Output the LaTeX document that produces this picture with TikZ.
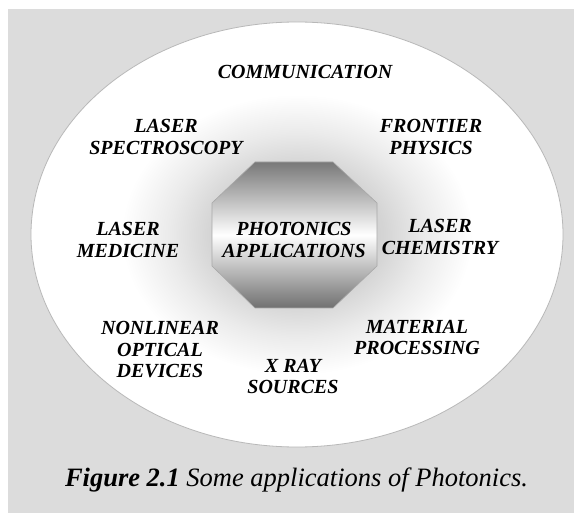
\documentclass[tikz,border=0pt]{standalone}
\usepackage{fontspec}
\setmainfont{Liberation Serif}
\usetikzlibrary{positioning}
\definecolor{bggray}{HTML}{DCDCDC}
\definecolor{edgegray}{HTML}{B8B8B8}
\definecolor{octtop}{HTML}{787878}
\definecolor{octbot}{HTML}{707070}
\definecolor{octedge}{HTML}{A8A8A8}
\pgfdeclareradialshading{ellshade}{\pgfpoint{0bp}{0bp}}{%
  color(0bp)=(black!20); color(8bp)=(black!17); color(12bp)=(black!8);
  color(16.5bp)=(white); color(50bp)=(white)}
\tikzset{
  lbl/.style={font=\fontsize{20}{21.5}\selectfont\bfseries\itshape, align=center, inner sep=0pt, text=black},
  captext/.style={font=\fontsize{26.5}{28}\selectfont\itshape, inner sep=0pt, anchor=base}
}
\begin{document}
\begin{tikzpicture}[x=1pt,y=-1pt]
\useasboundingbox (0,0) rectangle (574,513);
\fill[white] (0,0) rectangle (574,513);
\fill[bggray] (8,9) rectangle (574,513);
\shadedraw[shading=ellshade, draw=edgegray, line width=0.8pt] (297,234.5) ellipse [x radius=266pt, y radius=212.5pt];
\shadedraw[draw=octedge, line width=0.6pt, top color=octtop, bottom color=octbot, middle color=white]
  (255,162) -- (333,162) -- (377,203) -- (377,266) -- (333,308) -- (255,308) -- (212,266) -- (212,203) -- cycle;
\node[lbl] (center) at (294,240) {PHOTONICS\\APPLICATIONS};
\node[lbl] (comm) at (305,72) {COMMUNICATION};
\node[lbl] (spec) at (166,137) {LASER\\SPECTROSCOPY};
\node[lbl] (front) at (431,137) {FRONTIER\\PHYSICS};
\node[lbl] (med) at (128,240) {LASER\\MEDICINE};
\node[lbl] (chem) at (440,237) {LASER\\CHEMISTRY};
\node[lbl] (nonlin) at (160,350) {NONLINEAR\\OPTICAL\\DEVICES};
\node[lbl] (mat) at (417,337.5) {MATERIAL\\PROCESSING};
\node[lbl] (xray) at (293,376.5) {X RAY\\SOURCES};
\node[captext] (caption) at (296.5,487) {\textbf{Figure 2.1} Some applications of Photonics.};
\end{tikzpicture}
\end{document}
